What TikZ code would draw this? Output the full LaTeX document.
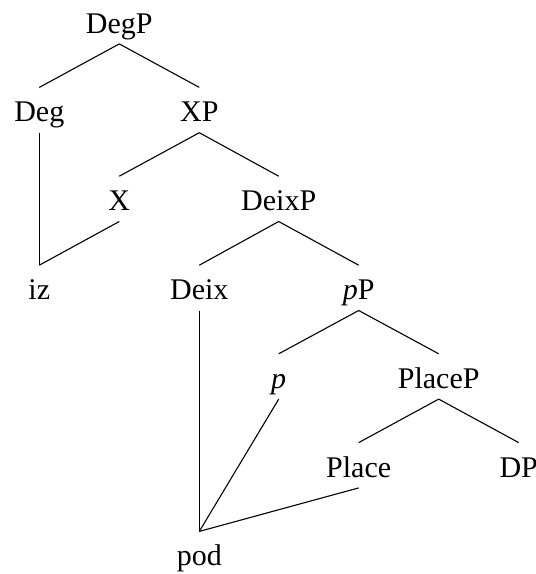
\documentclass[tikz,border=0pt]{standalone}
\usepackage{fontspec}
\setmainfont{Liberation Serif}
\begin{document}
\begin{tikzpicture}[x=0.5pt,y=-0.5pt,
  cat/.style={anchor=base,inner sep=0pt,text height=17pt,text depth=5.25pt,
    font=\fontsize{15}{17}\selectfont},
  branch/.style={line width=0.55pt}]
\useasboundingbox (0,0) rectangle (536,574);
% categories, placed on their baselines
\node[cat] (degp)   at (119.3,33)    {DegP};
\node[cat] (deg)    at (39.3,121.8)  {Deg};
\node[cat] (xp)     at (199.3,121.8) {XP};
\node[cat] (x)      at (119.3,210.6) {X};
\node[cat] (deixp)  at (278.7,210.6) {DeixP};
\node[cat] (iz)     at (39.3,299.6)  {iz};
\node[cat] (deix)   at (199.3,299.6) {Deix};
\node[cat] (pp)     at (358.7,299.6) {\textit{p}P};
\node[cat] (p)      at (278.7,388.2) {\textit{p}};
\node[cat] (placep) at (438.7,388.2) {PlaceP};
\node[cat] (place)  at (358.7,477)   {Place};
\node[cat] (dp)     at (518.7,477)   {DP};
\node[cat] (pod)    at (199.3,565.8) {pod};
% branches
\draw[branch] (degp.south) -- (deg.north);
\draw[branch] (degp.south) -- (xp.north);
\draw[branch] (xp.south) -- (x.north);
\draw[branch] (xp.south) -- (deixp.north);
\draw[branch] (deixp.south) -- (deix.north);
\draw[branch] (deixp.south) -- (pp.north);
\draw[branch] (pp.south) -- (p.north);
\draw[branch] (pp.south) -- (placep.north);
\draw[branch] (placep.south) -- (place.north);
\draw[branch] (placep.south) -- (dp.north);
% heads spelled out by one exponent
\draw[branch] (deg.south) -- (iz.north);
\draw[branch] (x.south) -- (iz.north);
\draw[branch] (deix.south) -- (pod.north);
\draw[branch] (p.south) -- (pod.north);
\draw[branch] (place.south) -- (pod.north);
\end{tikzpicture}
\end{document}
